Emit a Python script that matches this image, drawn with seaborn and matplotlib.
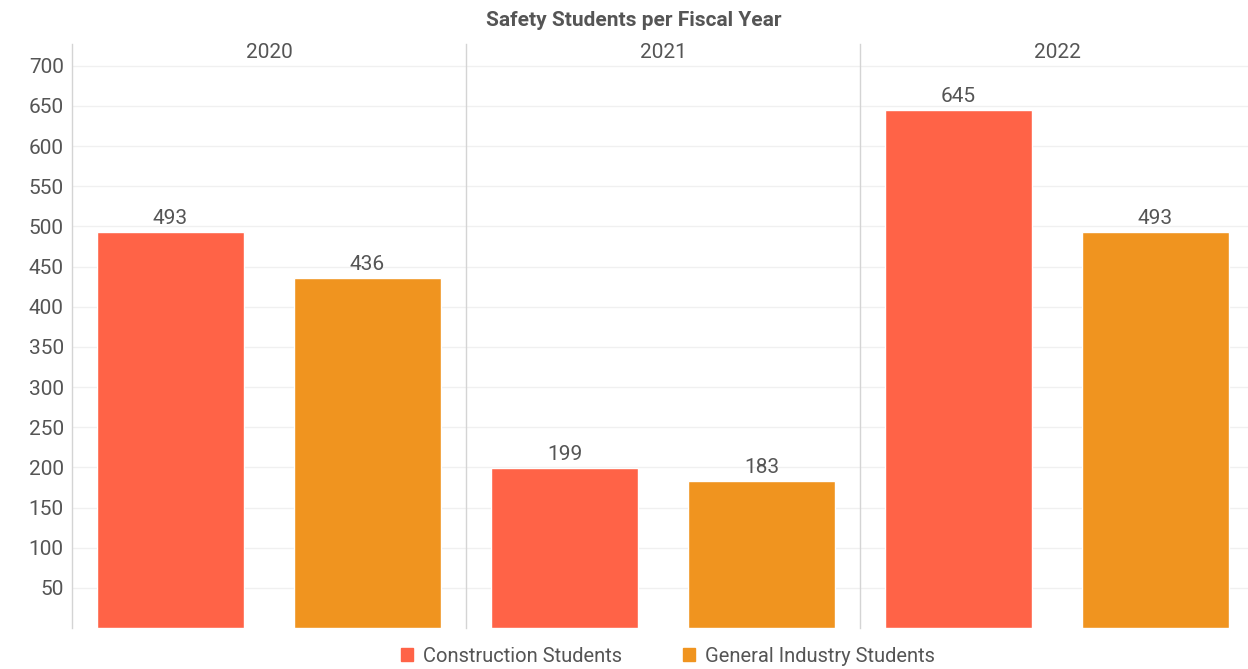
import matplotlib.pyplot as plt
import seaborn as sns
import pandas as pd
from matplotlib.patches import Patch

# ===== data =====
years = ["2020", "2021", "2022"]
series = ["Construction Students", "General Industry Students"]
construction = [493, 199, 645]
general_industry = [436, 183, 493]
yticks = [50, 100, 150, 200, 250, 300, 350, 400, 450, 500, 550, 600, 650, 700]
colors = ["#FF6347", "#F0941F"]

df = pd.DataFrame({
    "Year": years * 2,
    "Type": [series[0]] * 3 + [series[1]] * 3,
    "Students": construction + general_industry,
})

sns.set_theme(style="white")
plt.rcParams["font.family"] = ["Roboto", "DejaVu Sans"]
txt = "#555555"

fig, axes = plt.subplots(1, 3, figsize=(12.48, 6.69), dpi=100, sharey=True)
# last panel runs a little past the right edge, like the original
fig.subplots_adjust(left=72 / 1248, right=1254 / 1248, bottom=41 / 669,
                    top=625 / 669, wspace=0)

for i, (ax, yr) in enumerate(zip(axes, years)):
    sub = df[df["Year"] == yr]
    sns.barplot(data=sub, x="Type", y="Students", hue="Type", order=series,
                hue_order=series, palette=colors, width=0.75, ax=ax,
                legend=False, saturation=1)
    for c in ax.containers:
        ax.bar_label(c, padding=3, fontsize=15, color=txt)
    ax.set_xlim(-0.5, 1.5)
    ax.set_ylim(0, 727)
    ax.set_xticks([])
    ax.set_xlabel("")
    ax.set_ylabel("")
    ax.set_yticks(yticks)
    ax.yaxis.grid(True, color="#f0f0f0", linewidth=1)
    ax.set_axisbelow(True)
    for s in ["top", "right", "bottom"]:
        ax.spines[s].set_visible(False)
    ax.spines["left"].set_color("#d4d4d4")
    ax.spines["left"].set_linewidth(1)
    ax.text(0.5, 1 - 9 / 584, yr, transform=ax.transAxes, ha="center",
            va="center", fontsize=15, color=txt)
    ax.tick_params(axis="y", length=0, labelsize=15, labelcolor=txt, pad=6)

fig.text(634 / 1248, 1 - 21 / 669, "Safety Students per Fiscal Year",
         ha="center", va="center", fontsize=15, fontweight="bold", color=txt)

handles = [Patch(color=c, label=s) for c, s in zip(colors, series)]
fig.legend(handles=handles, loc="center", bbox_to_anchor=(668 / 1248, 13 / 669),
           ncol=2, frameon=False, fontsize=14.5, handlelength=0.6,
           handleheight=0.6, handletextpad=0.5, columnspacing=3.0,
           labelcolor=txt)

plt.savefig("out.png", dpi=100)
